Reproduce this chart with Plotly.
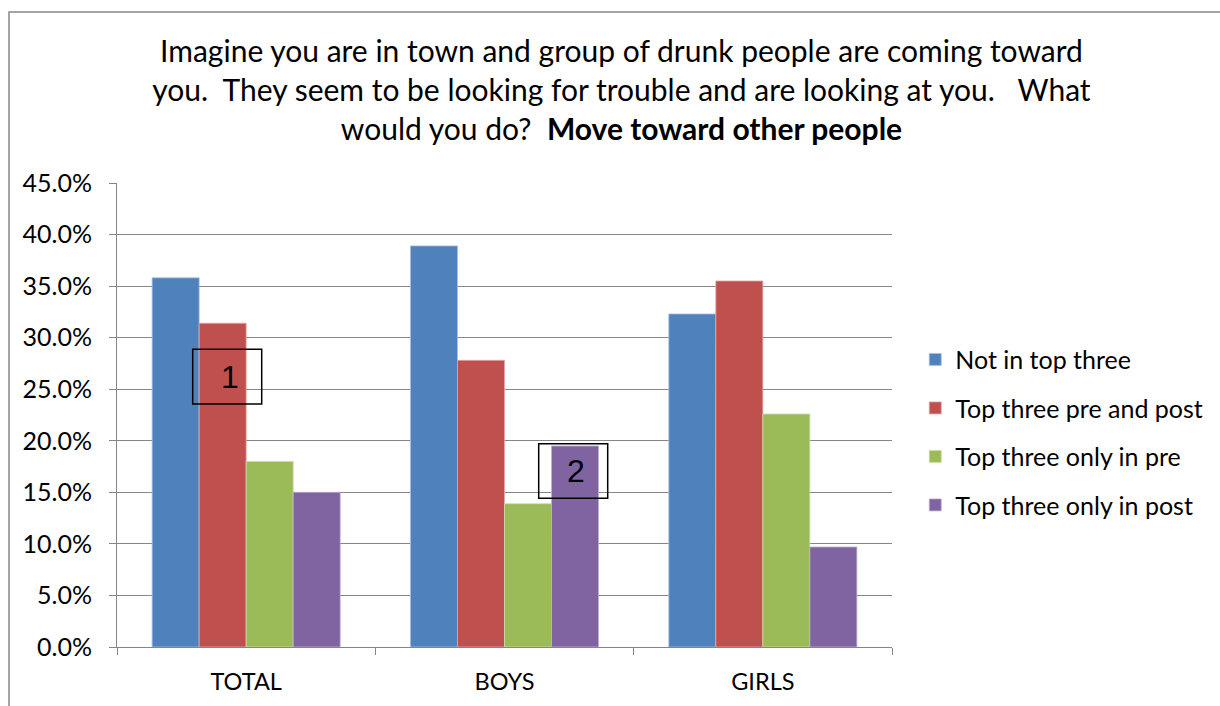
import plotly.graph_objects as go

# Survey groups and the share of respondents in each ranking category
groups = ["TOTAL", "BOYS", "GIRLS"]
series_names = [
    "Not in top three",
    "Top three pre and post",
    "Top three only in pre",
    "Top three only in post",
]
not_in_top_three = [0.358, 0.389, 0.323]
top_three_pre_and_post = [0.314, 0.278, 0.355]
top_three_only_pre = [0.180, 0.139, 0.226]
top_three_only_post = [0.150, 0.195, 0.097]
y_ticks = [0.0, 0.05, 0.10, 0.15, 0.20, 0.25, 0.30, 0.35, 0.40, 0.45]

colors = ["#4F81BD", "#C0504D", "#9BBB59", "#8064A2"]
edge_colors = ["#A7C0DE", "#E0A8A6", "#CDDDAC", "#BFB1D0"]
series_values = [not_in_top_three, top_three_pre_and_post,
                 top_three_only_pre, top_three_only_post]

W, H = 1220, 706
L, R, T, B = 117, 328, 183, 59
FONT = "Lato"

fig = go.Figure()
for i, (name, vals) in enumerate(zip(series_names, series_values)):
    fig.add_trace(go.Bar(
        x=groups, y=vals, name=name,
        marker=dict(color=colors[i], line=dict(color=edge_colors[i], width=0.8)),
        legendgroup=name,
    ))

title_text = ("Imagine you are in town and group of drunk people are coming toward<br>"
              "you.  They seem to be looking for trouble and are looking at you.   What<br>"
              "would you do?  <b>Move toward other people</b>")

fig.update_layout(
    width=W, height=H,
    margin=dict(l=L, r=R, t=T, b=B, pad=0),
    paper_bgcolor="white", plot_bgcolor="white",
    barmode="group", bargap=0.272, bargroupgap=0,
    font=dict(family=FONT, color="#000000", size=24),
    title=dict(text=title_text, x=0.5094, xref="container", xanchor="center",
               y=1 - 62 / H, yref="container", yanchor="middle",
               font=dict(family=FONT, size=30, color="#000000")),
    legend=dict(x=1.03, xanchor="left", y=0.463, yanchor="middle",
                font=dict(family=FONT, size=25, color="#000000"),
                tracegroupgap=13, itemwidth=30, bgcolor="rgba(0,0,0,0)"),
    showlegend=True,
)

fig.update_yaxes(
    range=[0, 0.45], tickvals=y_ticks, tickformat=".1%",
    showgrid=True, gridcolor="#868686", gridwidth=1,
    showline=True, linecolor="#868686", linewidth=1,
    ticks="outside", ticklen=7, tickcolor="#868686",
    tickfont=dict(family=FONT, size=25, color="#000000"),
    ticklabelstandoff=12, zeroline=False,
)
fig.update_xaxes(
    showline=True, linecolor="#868686", linewidth=1,
    ticks="outside", ticklen=7, tickcolor="#868686", tickson="boundaries",
    tickfont=dict(family=FONT, size=23.5, color="#000000"),
    ticklabelstandoff=14, showgrid=False,
)

# Outer chart frame
fig.add_shape(type="rect", xref="paper", yref="paper",
              x0=(9 - L) / 775, x1=(1230 - L) / 775,
              y0=(647 - 716) / 464, y1=(647 - 12) / 464,
              line=dict(color="#868686", width=1.5), fillcolor="rgba(0,0,0,0)",
              layer="below")

# Numbered callout boxes
callouts = [
    ("1", 192.7, 261.7, 349.3, 404.0),
    ("2", 538.7, 607.7, 443.7, 498.3),
]
for label, px0, px1, py0, py1 in callouts:
    fig.add_shape(type="rect", xref="paper", yref="paper",
                  x0=(px0 - L) / 775, x1=(px1 - L) / 775,
                  y0=(647 - py1) / 464, y1=(647 - py0) / 464,
                  line=dict(color="#000000", width=1.5), fillcolor="rgba(0,0,0,0)")
    fig.add_annotation(text=label, xref="paper", yref="paper",
                       x=((px0 + px1) / 2 - L) / 775 + 0.003, y=(647 - (py0 + py1) / 2) / 464,
                       showarrow=False, xanchor="center", yanchor="middle",
                       font=dict(family="Liberation Sans", size=32, color="#000000"))

fig.write_html("out.html")
